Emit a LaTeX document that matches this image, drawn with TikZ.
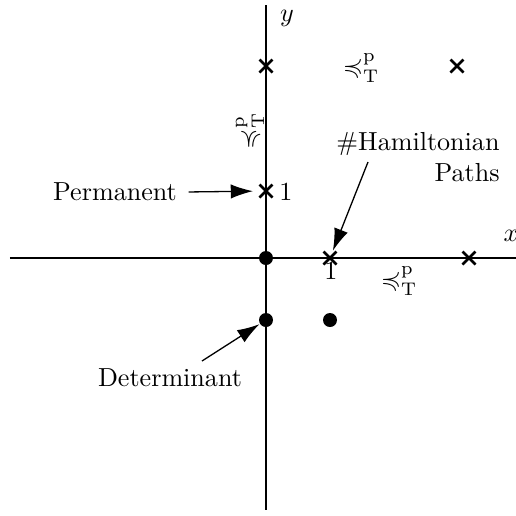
\documentclass[tikz,border=0pt]{standalone}
\usepackage{amssymb}
\usetikzlibrary{arrows.meta}
\newcommand{\redp}{\preccurlyeq^{\mathrm{p}}_{\mathrm{T}}}
\begin{document}
\begin{tikzpicture}[x=0.01347cm,y=-0.01347cm,
  axis/.style={line width=0.4pt},
  xmark/.style={line width=1pt},
  dotm/.style={fill=black},
  arr/.style={-{Latex[length=8.5pt,width=5.5pt]},line width=0.5pt}]
\useasboundingbox (0,0) rectangle (516,516);
% axes
\coordinate (xl) at (10,258);
\coordinate (xr) at (516,258);
\coordinate (yt) at (266,5);
\coordinate (yb) at (266,510);
\draw[axis] (xl) -- (xr);
\draw[axis] (yt) -- (yb);
\node (xlab) at (511,236) {$x$};
\node (ylab) at (287,18) {$y$};
% crosses
\coordinate (c1) at (266,66);
\coordinate (c2) at (457,66);
\coordinate (c3) at (266,191);
\coordinate (c4) at (330,258);
\coordinate (c5) at (469,258);
\foreach \c in {c1,c2,c3,c4,c5}{
  \draw[xmark] (\c) ++(-6.5,-6.5) -- ++(13,13);
  \draw[xmark] (\c) ++(-6.5,6.5) -- ++(13,-13);
}
% dots
\coordinate (d0) at (266,258);
\coordinate (d1) at (266,320);
\coordinate (d2) at (330,320);
\foreach \d in {d0,d1,d2}{\fill[dotm] (\d) circle[radius=7];}
% labels
\node (r1) at (361,68) {$\redp$};
\node[rotate=90] (r2) at (250,131) {$\redp$};
\node (r3) at (399,281) {$\redp$};
\node (one1) at (286,192) {1};
\node (one2) at (331,271) {1};
% annotations
\node (perm) at (115,192) {Permanent};
\draw[arr,shorten <=1pt,shorten >=5pt] (perm.east) -- (c3);
\node[align=right] (ham) at (418,157) {\#Hamiltonian\\Paths};
\coordinate (hamtail) at (368,162);
\draw[arr,shorten >=3pt] (hamtail) -- (c4);
\node (det) at (170,378) {Determinant};
\coordinate (dettail) at (202,361);
\draw[arr,shorten >=3pt] (dettail) -- (d1);
\end{tikzpicture}
\end{document}
